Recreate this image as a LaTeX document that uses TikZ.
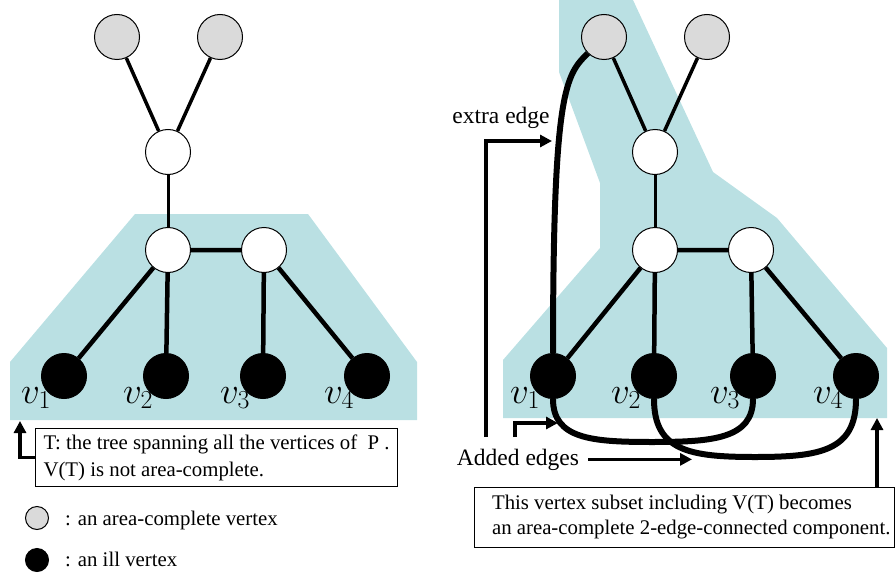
\RequirePackage{fix-cm}
\documentclass[tikz,border=0pt]{standalone}
\usepackage{fontspec}
\setmainfont{Liberation Serif}
\usetikzlibrary{arrows.meta,positioning}
\definecolor{regioncyan}{RGB}{186,224,227}
\definecolor{vertexgray}{RGB}{218,218,218}
\begin{document}
\begin{tikzpicture}[x=1pt,y=-1pt,
        base/.style={circle,draw,line width=1pt,minimum size=45pt,inner sep=0pt},
        complete/.style={base,fill=vertexgray},
        plainv/.style={base,fill=white},
        ill/.style={base,fill=black},
        grayedge/.style={line width=3.5pt},
        stemedge/.style={line width=3pt},
        treeedge/.style={line width=4.5pt},
        addededge/.style={line width=6pt},
        pointer/.style={line width=3.5pt,-{Triangle[length=12pt,width=12pt]}},
        vlabel/.style={inner sep=0pt,anchor=base west,font=\fontsize{37}{37}\selectfont},
        note/.style={inner sep=0pt,anchor=base,font=\fontsize{20.8}{26}\selectfont},
        bignote/.style={note,font=\fontsize{23.5}{28}\selectfont},
        notebox/.style={draw,line width=1pt,align=left,anchor=north west}]
    \useasboundingbox (0,0) rectangle (896,575);
    % Shaded areas
    \fill[regioncyan] (10,420) -- (10,362) -- (135,214) -- (308,214) -- (417,362) -- (417,420) -- cycle;
    \fill[regioncyan] (559,0) -- (633,0) -- (713,172) -- (777,218) -- (887,348) -- (887,418)
        -- (503,418) -- (503,360) -- (600,248) -- (600,183) -- (559,72) -- cycle;
    % Left graph
    \begin{scope}
        \node[complete] (g1) at (117,37) {};
        \node[complete] (g2) at (220,37) {};
        \node[plainv] (t) at (168,152) {};
        \node[plainv] (m1) at (168,250) {};
        \node[plainv] (m2) at (264,250) {};
        \node[ill] (v1) at (64,376) {};
        \node[ill] (v2) at (166,376) {};
        \node[ill] (v3) at (263,376) {};
        \node[ill] (v4) at (367,376) {};
        \draw[grayedge] (g1) -- (t) (g2) -- (t);
        \draw[stemedge] (t) -- (m1);
        \draw[treeedge] (m1) -- (m2) (m1) -- (v1) (m1) -- (v2) (m2) -- (v3) (m2) -- (v4);
        \foreach \i in {1,...,4}
            \node[vlabel] (l\i) at ([shift={(-43,27)}]v\i.center) {$v_{\i}$};
    \end{scope}
    % Right graph
    \begin{scope}[xshift=487pt]
        \node[complete] (g1) at (117,37) {};
        \node[complete] (g2) at (220,37) {};
        \node[plainv] (t) at (168,152) {};
        \node[plainv] (m1) at (168,250) {};
        \node[plainv] (m2) at (264,250) {};
        \node[ill] (v1) at (66,376) {};
        \node[ill] (v2) at (167,376) {};
        \node[ill] (v3) at (266,376) {};
        \node[ill] (v4) at (369,376) {};
        \draw[grayedge] (g1) -- (t) (g2) -- (t);
        \draw[stemedge] (t) -- (m1);
        \draw[treeedge] (m1) -- (m2) (m1) -- (v1) (m1) -- (v2) (m2) -- (v3) (m2) -- (v4);
        \foreach \i in {1,...,4}
            \node[vlabel] (l\i) at ([shift={(-43,27)}]v\i.center) {$v_{\i}$};
        % extra edge and added edges
        \draw[addededge] (v1.north) .. controls +(0,-264) and +(-22,22) .. (g1.south west);
        \coordinate (c1) at (165,442);
        \coordinate (c2) at (268,457);
        \draw[addededge] (v1.south) .. controls +(0,40) and +(-60,0) .. (c1)
            .. controls +(60,0) and +(0,40) .. (v3.south);
        \draw[addededge] (v2.south) .. controls +(0,52) and +(-65,0) .. (c2)
            .. controls +(65,0) and +(0,52) .. (v4.south);
    \end{scope}
    % Pointers and notes
    \node[bignote] (xlab) at (501,124) {extra edge};
    \coordinate (xtail) at (486,437);
    \coordinate (xtip) at (552,141);
    \draw[pointer] (xtail) |- (xtip);
    \node[bignote] (alab) at (518,465) {Added edges};
    \coordinate (atail) at (515,437);
    \coordinate (atip) at (558,423);
    \draw[pointer] (atail) |- (atip);
    \coordinate (btip) at (692,458);
    \draw[pointer,shorten <=9pt] (alab.east) -- (alab.east -| btip);
    \node[notebox,inner xsep=8pt,inner ysep=6pt,font=\fontsize{20.8}{27}\selectfont] (lbox) at (35,428)
        {T: the tree spanning all the vertices of \ P .\\V(T) is not area-complete.};
    \coordinate (ltip) at (20,421);
    \draw[pointer] (lbox.west) -| (ltip);
    \node[notebox,anchor=north east,inner xsep=4pt,inner ysep=8pt,font=\fontsize{20.8}{25}\selectfont] (rbox) at (895,487)
        {\hspace*{14pt}This vertex subset including V(T) becomes\\\hspace*{14pt}an area-complete 2-edge-connected component.};
    \coordinate (rtip) at (877,418);
    \draw[pointer] (rbox.north -| rtip) -- (rtip);
    % Legend
    \node[complete,minimum size=23pt] (lg1) at (37,518) {};
    \node[note,anchor=base west] (lt1) at (65,525) {: an area-complete vertex};
    \node[ill,minimum size=23pt] (lg2) at (37,560) {};
    \node[note,anchor=base west] (lt2) at (65,566) {: an ill vertex};
\end{tikzpicture}
\end{document}
